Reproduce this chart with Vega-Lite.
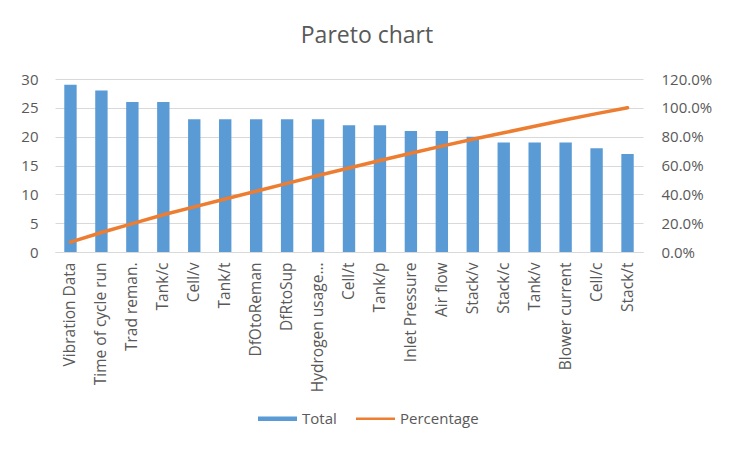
{
  "$schema": "https://vega.github.io/schema/vega-lite/v6.json",
  "autosize": {"type": "none"},
  "width": 588,
  "height": 173,
  "padding": {"left": 55, "top": 79, "right": 93, "bottom": 202},
  "background": "white",
  "title": {
    "text": "Pareto chart",
    "fontSize": 23,
    "font": "Open Sans",
    "fontWeight": "normal",
    "color": "#595959",
    "anchor": "middle",
    "frame": "group",
    "dx": 18,
    "offset": 24
  },
  "config": {
    "font": "Open Sans",
    "view": {"stroke": null},
    "axis": {
      "labelFont": "Open Sans",
      "labelFontSize": 15,
      "labelColor": "#595959",
      "ticks": false,
      "title": null
    },
    "legend": {
      "labelFont": "Open Sans",
      "labelFontSize": 15,
      "labelColor": "#595959"
    }
  },
  "data": {
    "values": [
      {"Category": "Vibration Data", "Total": 29, "Percentage": 0.0687},
      {"Category": "Time of cycle run", "Total": 28, "Percentage": 0.1351},
      {"Category": "Trad reman.", "Total": 26, "Percentage": 0.1967},
      {"Category": "Tank/c", "Total": 26, "Percentage": 0.2583},
      {"Category": "Cell/v", "Total": 23, "Percentage": 0.3128},
      {"Category": "Tank/t", "Total": 23, "Percentage": 0.3673},
      {"Category": "DfOtoReman", "Total": 23, "Percentage": 0.4218},
      {"Category": "DfRtoSup", "Total": 23, "Percentage": 0.4763},
      {"Category": "Hydrogen usage…", "Total": 23, "Percentage": 0.5308},
      {"Category": "Cell/t", "Total": 22, "Percentage": 0.5829},
      {"Category": "Tank/p", "Total": 22, "Percentage": 0.6351},
      {"Category": "Inlet Pressure", "Total": 21, "Percentage": 0.6848},
      {"Category": "Air flow", "Total": 21, "Percentage": 0.7346},
      {"Category": "Stack/v", "Total": 20, "Percentage": 0.782},
      {"Category": "Stack/c", "Total": 19, "Percentage": 0.827},
      {"Category": "Tank/v", "Total": 19, "Percentage": 0.872},
      {"Category": "Blower current", "Total": 19, "Percentage": 0.9171},
      {"Category": "Cell/c", "Total": 18, "Percentage": 0.9597},
      {"Category": "Stack/t", "Total": 17, "Percentage": 1.0}
    ]
  },
  "encoding": {
    "x": {
      "field": "Category",
      "type": "nominal",
      "sort": null,
      "scale": {"paddingInner": 0.6, "paddingOuter": 0.3},
      "axis": {
        "labelAngle": -90,
        "labelPadding": 10,
        "labelLimit": 0,
        "labelFontSize": 15.5,
        "domainColor": "#D9D9D9",
        "domainWidth": 1,
        "grid": false
      }
    }
  },
  "layer": [
    {
      "mark": {"type": "bar", "color": "#5B9BD5"},
      "encoding": {
        "y": {
          "field": "Total",
          "type": "quantitative",
          "scale": {"domain": [0, 30], "nice": false},
          "axis": {
            "values": [0, 5, 10, 15, 20, 25, 30],
            "domain": false,
            "grid": true,
            "gridColor": "#D9D9D9",
            "labelPadding": 17
          }
        },
        "color": {
          "datum": "Total",
          "scale": {"domain": ["Total", "Percentage"], "range": ["#5B9BD5", "#ED7D31"]},
          "legend": {
            "title": null,
            "orient": "none",
            "direction": "horizontal",
            "legendX": 203,
            "legendY": 320,
            "padding": 0,
            "symbolSize": 1521,
            "symbolStrokeWidth": 0,
            "labelOffset": 5,
            "columnPadding": 19,
            "encode": {
              "symbols": {
                "update": {
                  "shape": {"signal": "datum.value === 'Total' ? 'M-1,-0.12H1V0.12H-1Z' : 'M-1,-0.065H1V0.065H-1Z'"},
                  "fill": {"signal": "datum.value === 'Total' ? '#5B9BD5' : '#ED7D31'"},
                  "stroke": {"value": "transparent"},
                  "opacity": {"value": 1}
                }
              }
            }
          }
        }
      }
    },
    {
      "mark": {"type": "line", "strokeWidth": 3.5, "strokeCap": "round", "color": "#ED7D31"},
      "encoding": {
        "y": {
          "field": "Percentage",
          "type": "quantitative",
          "scale": {"domain": [0, 1.2], "nice": false},
          "axis": {
            "orient": "right",
            "values": [0, 0.2, 0.4, 0.6, 0.8, 1.0, 1.2],
            "format": ".1%",
            "domain": false,
            "grid": false,
            "labelPadding": 18
          }
        },
        "color": {"datum": "Percentage"}
      }
    }
  ],
  "resolve": {"scale": {"y": "independent"}}
}
